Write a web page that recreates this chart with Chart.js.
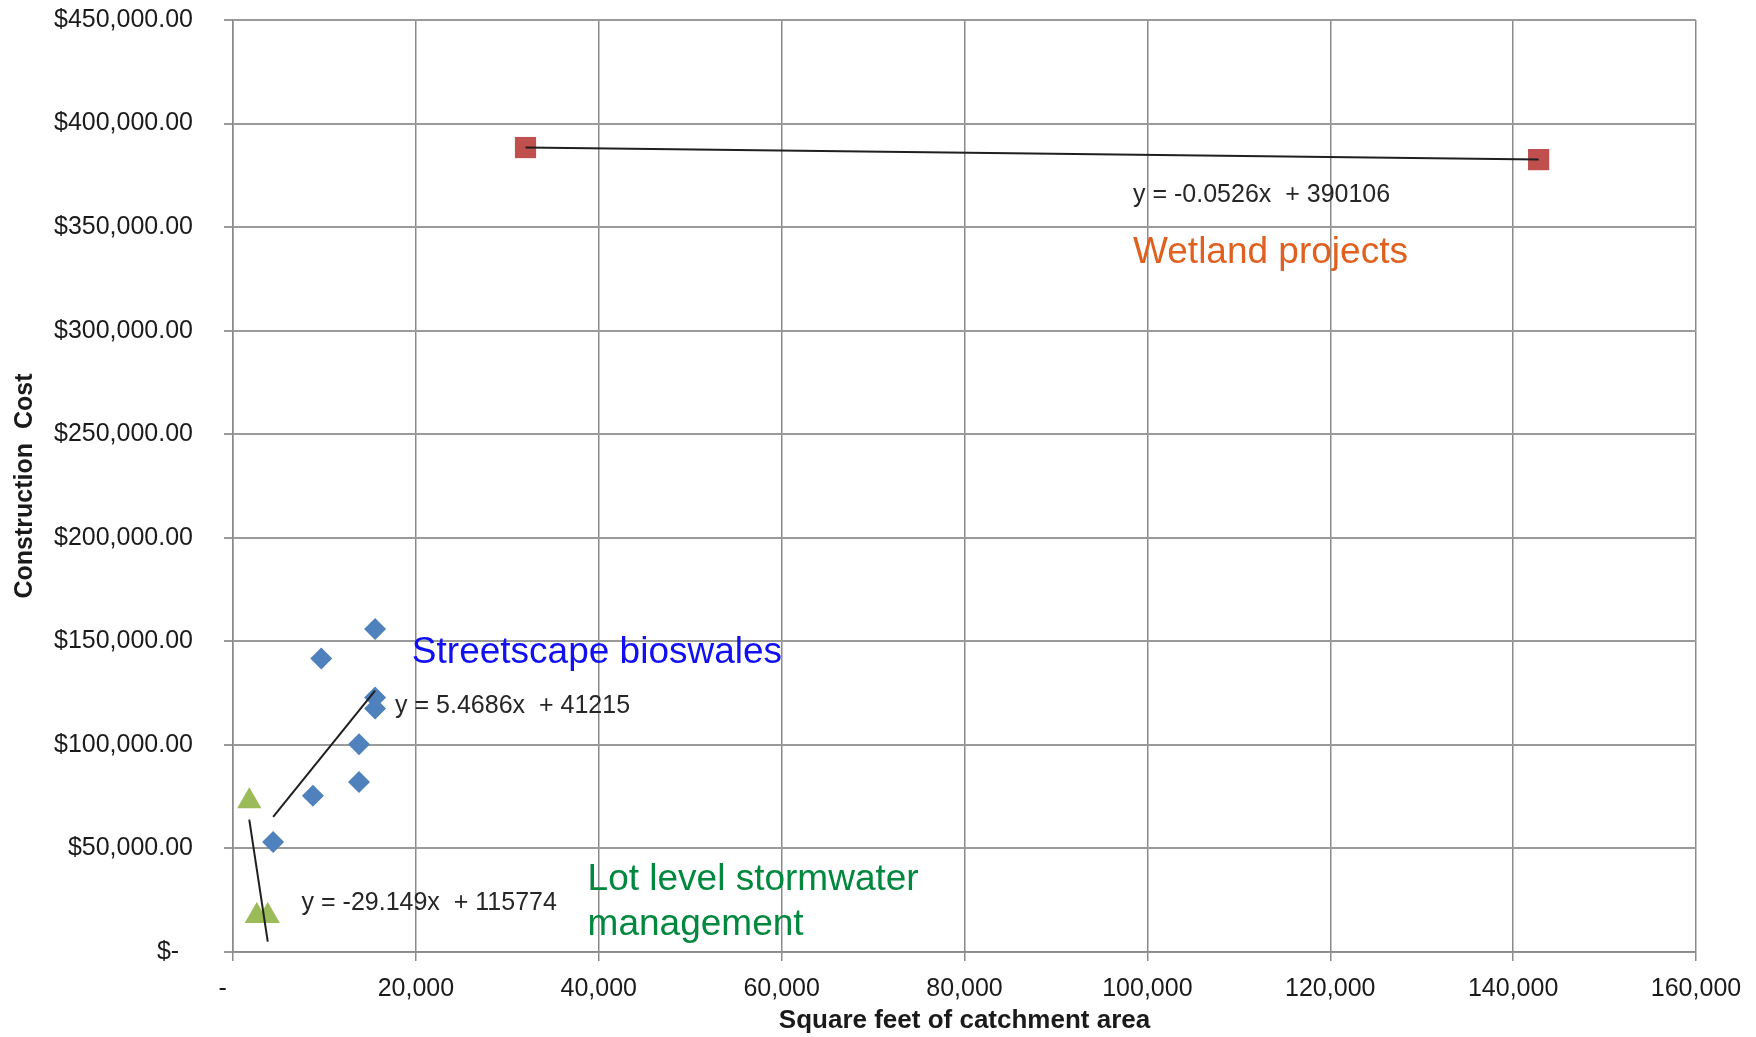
<!DOCTYPE html>
<html>
<head>
<meta charset="utf-8">
<script src="https://cdn.jsdelivr.net/npm/chart.js@4/dist/chart.umd.min.js"></script>
<style>
  html, body { margin: 0; padding: 0; background: #ffffff; }
  canvas { display: block; }
</style>
</head>
<body>
<canvas id="chart" width="1756" height="1037"></canvas>
<script>
// Catchment area (sq ft) and construction cost for each project type
const bioswaleArea = [15540, 9650, 15540, 15540, 13780, 13780, 8740, 4390];
const bioswaleCost = [156000, 141700, 122900, 117600, 100300, 82100, 75400, 53100];

const lotLevelArea = [1780, 2600, 3800];
const lotLevelCost = [72800, 17400, 17400];

const wetlandArea = [31990, 142790];
const wetlandCost = [388420, 382595];

// Linear trendlines: [slope, intercept]
const bioswaleFit = [5.4686, 41215];
const lotLevelFit = [-29.149, 115774];
const wetlandFit = [-0.0526, 390106];

// Axis tick labels
const xTickLabels = ['-   ', '20,000', '40,000', '60,000', '80,000', '100,000', '120,000', '140,000', '160,000'];
const yTickLabels = ['$-  ', '$50,000.00', '$100,000.00', '$150,000.00', '$200,000.00', '$250,000.00',
  '$300,000.00', '$350,000.00', '$400,000.00', '$450,000.00'];

const FONT = '"Liberation Sans", Arial, sans-serif';

function points(xs, ys) {
  return xs.map((x, i) => ({ x: x, y: ys[i] }));
}

function fitLine(xs, fit) {
  const lo = Math.min(...xs), hi = Math.max(...xs);
  return [{ x: lo, y: fit[0] * lo + fit[1] }, { x: hi, y: fit[0] * hi + fit[1] }];
}

function equation(fit) {
  const sign = fit[1] < 0 ? '- ' : '+ ';
  return 'y = ' + fit[0] + 'x  ' + sign + Math.abs(fit[1]);
}

// Text callouts, anchored in data coordinates
const callouts = [
  { text: equation(wetlandFit), x: 98430, y: 362200, color: '#262626', size: 25 },
  { text: 'Wetland projects', x: 98430, y: 332700, color: '#E0601F', size: 37 },
  { text: 'Streetscape bioswales', x: 19560, y: 139500, color: '#1010F2', size: 37 },
  { text: equation(bioswaleFit), x: 17730, y: 115300, color: '#262626', size: 25 },
  { text: equation(lotLevelFit), x: 7500, y: 20200, color: '#262626', size: 25 },
  { text: 'Lot level stormwater', x: 38780, y: 29800, color: '#00883E', size: 37 },
  { text: 'management', x: 38780, y: 8100, color: '#00883E', size: 37 }
];

const calloutPlugin = {
  id: 'callouts',
  afterDatasetsDraw(chart) {
    const ctx = chart.ctx;
    const xs = chart.scales.x, ys = chart.scales.y;
    ctx.save();
    ctx.textAlign = 'left';
    ctx.textBaseline = 'alphabetic';
    callouts.forEach(c => {
      ctx.font = c.size + 'px ' + FONT;
      ctx.fillStyle = c.color;
      ctx.fillText(c.text, xs.getPixelForValue(c.x), ys.getPixelForValue(c.y));
    });
    ctx.restore();
  }
};

const trendStyle = {
  type: 'line', showLine: true, pointRadius: 0, borderColor: '#1f1f1f',
  borderWidth: 2, fill: false, order: 0
};

new Chart(document.getElementById('chart'), {
  type: 'scatter',
  data: {
    datasets: [
      { label: 'Streetscape bioswales', data: points(bioswaleArea, bioswaleCost),
        pointStyle: 'rectRot', pointRadius: 11, backgroundColor: '#4F81BD', borderColor: '#4F81BD',
        borderWidth: 0, order: 1 },
      { label: 'Lot level stormwater management', data: points(lotLevelArea, lotLevelCost),
        pointStyle: 'triangle', pointRadius: 14, backgroundColor: '#9BBB59', borderColor: '#9BBB59',
        borderWidth: 0, order: 1 },
      { label: 'Wetland projects', data: points(wetlandArea, wetlandCost),
        pointStyle: 'rect', pointRadius: 15, backgroundColor: '#C0504D', borderColor: '#C0504D',
        borderWidth: 0, order: 1 },
      Object.assign({ label: 'Bioswale trend', data: fitLine(bioswaleArea, bioswaleFit) }, trendStyle),
      Object.assign({ label: 'Lot level trend', data: fitLine(lotLevelArea, lotLevelFit) }, trendStyle),
      Object.assign({ label: 'Wetland trend', data: fitLine(wetlandArea, wetlandFit) }, trendStyle)
    ]
  },
  options: {
    responsive: false,
    animation: false,
    layout: { padding: { top: 20, right: 60, bottom: 0, left: 0 } },
    plugins: { legend: { display: false }, tooltip: { enabled: false } },
    scales: {
      x: {
        type: 'linear', min: 0, max: 160000,
        ticks: {
          stepSize: 20000, padding: 13, color: '#1a1a1a', maxRotation: 0,
          font: { family: FONT, size: 25 },
          callback: (v) => xTickLabels[Math.round(v / 20000)]
        },
        grid: { color: '#8a8a8a', lineWidth: 1.5, tickLength: 9, tickColor: '#8a8a8a' },
        border: { color: '#8a8a8a', width: 1.5 },
        title: { display: true, text: 'Square feet of catchment area', color: '#1a1a1a',
          font: { family: FONT, size: 26, weight: 'bold' }, padding: { top: 0, bottom: 1 } },
        afterFit(scale) {
          scale.height = 85;
          scale.paddingLeft = 0;
          scale.paddingRight = 0;
        }
      },
      y: {
        type: 'linear', min: 0, max: 450000,
        ticks: {
          stepSize: 50000, padding: 31, color: '#1a1a1a',
          font: { family: FONT, size: 25 },
          callback: (v) => yTickLabels[Math.round(v / 50000)]
        },
        grid: { color: '#9a9a9a', lineWidth: 2, tickLength: 9, tickColor: '#9a9a9a' },
        border: { color: '#8a8a8a', width: 1.5 },
        title: { display: true, text: 'Construction  Cost', color: '#1a1a1a',
          font: { family: FONT, size: 25, weight: 'bold' }, padding: { top: 10, bottom: 0 } },
        afterFit(scale) {
          scale.width = 233;
          scale.paddingTop = 0;
          scale.paddingBottom = 0;
        }
      }
    }
  },
  plugins: [calloutPlugin]
});
</script>
</body>
</html>
